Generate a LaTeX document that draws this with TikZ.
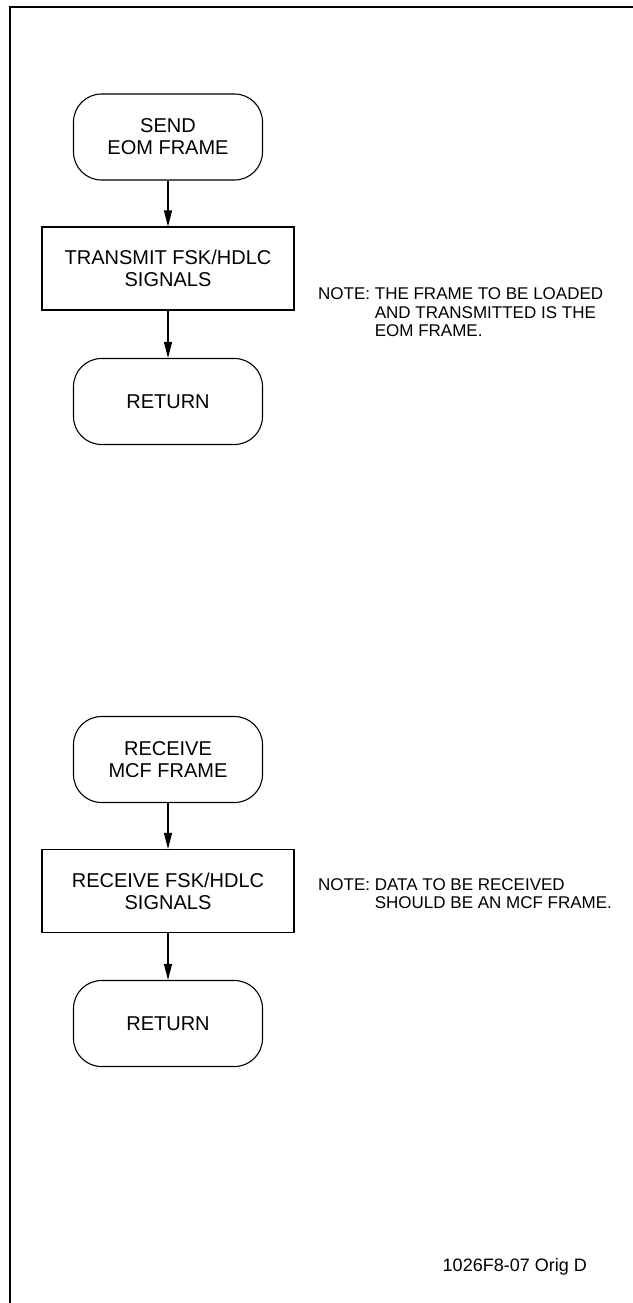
\documentclass[tikz,border=0pt]{standalone}
\usepackage{fontspec}
\setmainfont{Liberation Sans}
\usetikzlibrary{arrows.meta}
\tikzset{
  boxtext/.style={font=\fontsize{20}{22}\selectfont, align=center},
  term/.style={draw, line width=1.1pt, rounded corners=28pt, minimum width=189pt, minimum height=86pt, inner sep=0pt, boxtext},
  proc/.style={draw, line width=1.1pt, minimum width=252pt, minimum height=83pt, inner sep=0pt, boxtext},
  flow/.style={line width=1.1pt, -{Triangle[length=16pt,width=8pt]}},
  notetext/.style={font=\fontsize{17}{18.5}\selectfont, inner sep=0pt, anchor=base west},
  frameline/.style={line width=2.4pt, line join=miter}
}
\begin{document}
\begin{tikzpicture}[x=1pt,y=-1pt]
\useasboundingbox (0,0) rectangle (632,1303);
\fill[white] (0,0) rectangle (632,1303);
% frame
\coordinate (fr1) at (640,7.3);
\coordinate (fr2) at (9.8,7.3);
\coordinate (fr3) at (9.8,1310);
\draw[frameline] (fr1) -- (fr2) -- (fr3);
% group 1
\node[term] (t1) at (168,137) {SEND\\EOM FRAME};
\node[proc] (b1) at (168,268.5) {TRANSMIT FSK/HDLC\\SIGNALS};
\node[term] (r1) at (168,401.5) {RETURN};
\draw[flow] (t1) -- (b1);
\draw[flow] (b1) -- (r1);
\node[notetext] (n1) at (318,299.5) {\begin{tabular}[t]{@{}l@{ }l@{}}NOTE: & THE FRAME TO BE LOADED\\ & AND TRANSMITTED IS THE\\ & EOM FRAME.\end{tabular}};
% group 2
\node[term] (t2) at (168,759.5) {RECEIVE\\MCF FRAME};
\node[proc] (b2) at (168,891) {RECEIVE FSK/HDLC\\SIGNALS};
\node[term] (r2) at (168,1023.5) {RETURN};
\draw[flow] (t2) -- (b2);
\draw[flow] (b2) -- (r2);
\node[notetext] (n2) at (318,890) {\begin{tabular}[t]{@{}l@{ }l@{}}NOTE: & DATA TO BE RECEIVED\\ & SHOULD BE AN MCF FRAME.\end{tabular}};
% footer
\node[font=\fontsize{18}{20}\selectfont, inner sep=0pt, anchor=base east] (foot) at (587,1271.5) {1026F8-07 Orig D};
\end{tikzpicture}
\end{document}
